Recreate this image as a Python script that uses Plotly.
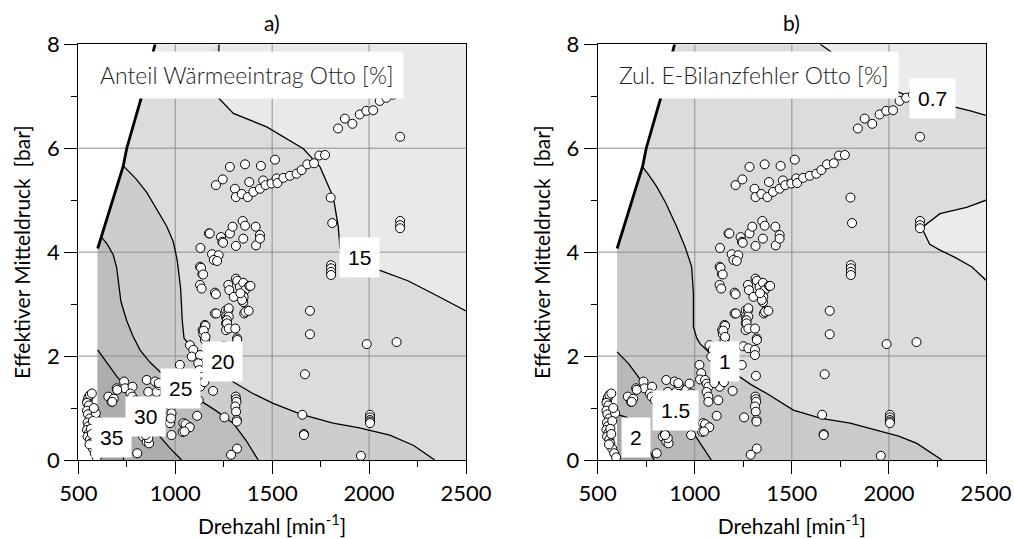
import plotly.graph_objects as go

# ---------------------------------------------------------------- axes / map
RPM_RANGE = [500, 2500]
BMEP_RANGE = [0, 8]
MAP_RPM_MIN = 600
X_MAJOR = [500, 1000, 1500, 2000, 2500]
Y_MAJOR = [0, 2, 4, 6, 8]

# full-load line (upper limit of the map)
FL_RPM = [600, 660, 732, 750, 827, 896]
FL_BMEP = [4.07, 4.8, 5.66, 6.0, 7.0, 8.0]

# ---------------------------------------------------------------- panel a)
LEVELS_A = [15, 20, 25, 30, 35]
COLORS_A = ["#e9e9e9", "#dcdcdc", "#cdcdcd", "#bdbdbd", "#adadad", "#9d9d9d"]

A15_RPM = [1226, 1215, 1300, 1472, 1661, 1747, 1816, 1841, 1850, 1950, 2056, 2200, 2331, 2500]
A15_BMEP = [8.0, 7.0, 6.67, 6.41, 5.99, 5.64, 5.05, 4.49, 4.07, 3.85, 3.65, 3.45, 3.2, 2.87]
A20_RPM = [732, 800, 853, 910, 956, 990, 1010, 1028, 1036, 1045, 1080, 1130, 1200, 1300,
           1400, 1505, 1650, 1814, 1950, 2107, 2230, 2339]
A20_BMEP = [5.66, 5.4, 5.15, 4.8, 4.5, 4.2, 3.85, 3.3, 2.7, 2.35, 2.17, 2.0, 1.78, 1.5,
            1.28, 1.09, 0.88, 0.71, 0.62, 0.48, 0.28, 0.0]
A25_RPM = [618, 650, 680, 698, 708, 720, 749, 780, 818, 870, 921, 980, 1050, 1127, 1210,
           1299, 1365, 1428]
A25_BMEP = [4.3, 4.15, 3.95, 3.7, 3.4, 3.05, 2.69, 2.4, 2.12, 1.88, 1.7, 1.52, 1.33, 1.15,
            0.95, 0.71, 0.38, 0.0]
A30_RPM = [600, 630, 663, 700, 749, 800, 860, 900, 921, 980, 1033]
A30_BMEP = [2.12, 1.97, 1.79, 1.6, 1.41, 1.2, 0.9, 0.62, 0.45, 0.2, 0.0]
A35_RPM = [600, 640, 680, 710, 735]
A35_BMEP = [0.85, 0.75, 0.55, 0.3, 0.0]

LABEL_A_RPM = [1952, 1243, 1027, 846, 670]
LABEL_A_BMEP = [3.89, 1.89, 1.37, 0.83, 0.43]

# ---------------------------------------------------------------- panel b)
LEVELS_B = [0.7, 1, 1.5, 2]
COLORS_B = ["#ebebeb", "#dcdcdc", "#cacaca", "#b8b8b8", "#a6a6a6"]

B07_TOP_RPM = [1646, 1714, 1800, 1900, 2005, 2100, 2200, 2341, 2420, 2500]
B07_TOP_BMEP = [8.0, 7.82, 7.6, 7.35, 7.15, 7.0, 6.9, 6.79, 6.72, 6.63]
B07_MID_RPM = [2500, 2400, 2263, 2169, 2210, 2263, 2340, 2426, 2500]
B07_MID_BMEP = [5.0, 4.86, 4.74, 4.47, 4.15, 4.04, 3.9, 3.72, 3.46]
B1_RPM = [727, 760, 804, 850, 907, 950, 984, 993, 993, 1010, 1027, 1079, 1150, 1219, 1290,
          1371, 1508, 1650, 1800, 1938, 2050, 2144, 2273]
B1_BMEP = [5.66, 5.5, 5.26, 4.95, 4.49, 4.1, 3.72, 3.2, 2.56, 2.35, 2.24, 2.05, 1.85, 1.63,
           1.45, 1.28, 0.96, 0.8, 0.71, 0.58, 0.46, 0.32, 0.0]
B15_RPM = [600, 660, 727, 800, 880, 940, 976, 1030, 1085]
B15_BMEP = [2.08, 1.85, 1.51, 1.3, 1.05, 0.8, 0.62, 0.3, 0.0]
B2_RPM = [600, 650, 700, 750, 790]
B2_BMEP = [0.88, 0.82, 0.6, 0.3, 0.0]

LABEL_B_RPM = [2224, 1156, 901, 695]
LABEL_B_BMEP = [6.96, 1.89, 0.96, 0.43]

# ---------------------------------------------------------------- measured operating points
OP_RPM = [
    548, 552, 560, 545, 555, 570, 545, 550, 560, 548, 552, 545, 555, 548, 560, 565, 575, 585,
    595, 590, 580, 575, 565, 570, 558,
    655, 672, 698, 736, 741, 780, 683, 675, 701, 769, 778, 795, 804,
    853, 861, 896, 904, 918, 956, 915,
    835, 853, 865, 861, 845, 838, 847,
    973, 981, 979, 981, 973, 981, 976, 978,
    1024, 1033, 1042, 1038, 1071, 1027, 1053, 1061, 1070, 1061, 1070, 1070, 1121, 1113, 1053,
    1075, 1048,
    1076, 1093, 1085, 1128, 1119, 1124, 1136, 1128, 1110, 1100, 1150, 1141, 1153, 1145, 1153,
    1128, 1140, 1128, 1136, 1130, 1133, 1144, 1156, 1147, 1156,
    1174, 1190, 1224, 1199, 1216, 1236, 1243, 1247,
    1205, 1210, 1205, 1212,
    1262, 1262, 1262, 1262, 1265, 1274, 1276, 1276, 1267, 1267, 1276, 1310, 1319, 1250, 1276,
    1310, 1310, 1320, 1356, 1368, 1362, 1379,
    1274, 1279, 1313, 1320, 1334, 1351, 1360, 1382, 1348, 1351, 1302, 1353, 1345, 1388, 1336,
    1282, 1296, 1313, 1348, 1351, 1360, 1415, 1417, 1437, 1437, 1178,
    1312, 1314, 1316, 1310, 1314, 1318, 1318, 1254, 1195, 1319, 1288, 1315, 1242,
    1669, 1695, 1695, 1656, 1664, 1664, 1988, 2142, 1958, 2005, 2005, 2005, 2005, 2005,
    1804, 1804, 1804, 1804, 1802, 1810, 2160, 2160, 2160, 2160,
    1210, 1245, 1282, 1360, 1442, 1515, 1308, 1313, 1343, 1374, 1382, 1403, 1437, 1454, 1466,
    1497, 1523, 1527, 1558, 1592, 1626, 1652, 1681, 1716, 1743, 1773,
    1840, 1875, 1914, 1952, 1986, 2021, 2055, 2089, 2124, 2150,
]
OP_BMEP = [
    1.15, 1.2, 1.25, 1.1, 1.05, 1.28, 0.95, 0.88, 0.8, 0.72, 0.65, 0.58, 0.52, 0.45, 0.4, 0.32,
    0.22, 0.13, 0.05, 0.9, 1.0, 0.75, 0.6, 0.5, 0.3,
    1.22, 1.12, 1.38, 1.51, 1.38, 1.41, 1.18, 1.12, 1.35, 1.28, 1.22, 1.15, 0.13,
    1.54, 1.31, 1.51, 1.31, 1.44, 1.35, 1.48,
    0.45, 0.35, 0.32, 0.42, 0.5, 0.64, 0.48,
    1.47, 1.28, 1.03, 0.9, 0.71, 0.48, 1.15, 0.8,
    1.83, 1.67, 0.71, 0.54, 0.64, 1.55, 1.54, 1.47, 1.41, 1.31, 1.22, 1.12, 1.15, 0.85, 0.69,
    0.63, 0.55,
    2.21, 2.12, 1.99, 2.02, 1.86, 1.73, 1.6, 1.41, 1.55, 1.48, 1.5, 2.5, 2.6, 2.42, 2.31,
    3.72, 3.58, 3.37, 3.3, 4.08, 3.7, 3.57, 2.58, 2.49, 2.37,
    4.36, 3.96, 3.94, 3.85, 3.83, 4.29, 4.2, 4.18,
    3.22, 3.19, 2.82, 2.82,
    2.88, 2.76, 2.63, 2.5, 2.72, 2.88, 2.92, 2.76, 2.69, 2.63, 2.53, 2.53, 2.34, 2.19, 2.15,
    2.12, 2.02, 2.31, 2.82, 2.88, 2.85, 2.87,
    3.37, 3.27, 3.49, 3.45, 3.33, 3.41, 3.27, 3.35, 3.17, 3.04, 3.14, 3.14, 3.08, 3.35, 3.21,
    4.36, 4.49, 4.12, 4.6, 4.26, 4.51, 4.49, 4.13, 4.33, 4.26, 4.36,
    1.22, 1.17, 1.12, 1.03, 0.93, 0.77, 0.74, 0.82, 1.33, 0.22, 0.1, 1.62, 1.83,
    1.65, 2.87, 2.42, 0.87, 0.5, 0.48, 2.23, 2.27, 0.08, 0.87, 0.82, 0.77, 0.74, 0.71,
    3.75, 3.69, 3.62, 3.56, 5.05, 4.56, 4.6, 4.52, 4.46, 6.22,
    5.29, 5.4, 5.64, 5.69, 5.66, 5.78, 5.22, 5.06, 5.12, 5.06, 5.35, 5.16, 5.22, 5.38, 5.29,
    5.32, 5.42, 5.33, 5.43, 5.47, 5.51, 5.58, 5.69, 5.71, 5.86, 5.87,
    6.38, 6.57, 6.47, 6.65, 6.72, 6.73, 6.91, 6.97, 7.03, 7.08,
]

PANEL_TITLES = ["a)", "b)"]
BOX_TITLES = ["Anteil Wärmeeintrag Otto [%]", "Zul. E-Bilanzfehler Otto [%]"]
X_TITLE = "Drehzahl [min<sup>-1</sup>]"
Y_TITLE = "Effektiver Mitteldruck  [bar]"

FONT_AXIS = "Lato, 'Open Sans', sans-serif"
FONT_LABEL = "'Liberation Sans', Arial, sans-serif"


def region_below(c_rpm, c_bmep):
    """Polygon of the map area on the low-load / low-speed side of a contour."""
    xs, ys = list(c_rpm), list(c_bmep)
    if xs[-1] >= RPM_RANGE[1] and ys[-1] > BMEP_RANGE[0]:
        xs.append(RPM_RANGE[1]); ys.append(BMEP_RANGE[0])
    xs.append(MAP_RPM_MIN); ys.append(BMEP_RANGE[0])
    for r, b in zip(FL_RPM, FL_BMEP):
        if b < ys[0]:
            xs.append(r); ys.append(b)
    return xs, ys


def map_outline():
    xs = [MAP_RPM_MIN, RPM_RANGE[1], RPM_RANGE[1]] + FL_RPM[::-1]
    ys = [BMEP_RANGE[0], BMEP_RANGE[0], BMEP_RANGE[1]] + FL_BMEP[::-1]
    return xs, ys


fig = go.Figure()


def fill(xs, ys, color, ax):
    fig.add_trace(go.Scatter(x=xs, y=ys, mode="lines", fill="toself", fillcolor=color,
                             line=dict(width=0), hoverinfo="skip", showlegend=False,
                             xaxis=ax[0], yaxis=ax[1]))


def line(xs, ys, width, ax, color="black"):
    fig.add_trace(go.Scatter(x=xs, y=ys, mode="lines", line=dict(color=color, width=width),
                             hoverinfo="skip", showlegend=False, xaxis=ax[0], yaxis=ax[1]))


def grid(ax):
    gx, gy = [], []
    for v in X_MAJOR[1:-1]:
        gx += [v, v, None]; gy += [BMEP_RANGE[0], BMEP_RANGE[1], None]
    for v in Y_MAJOR[1:-1]:
        gx += [RPM_RANGE[0], RPM_RANGE[1], None]; gy += [v, v, None]
    line(gx, gy, 1, ax, color="#8f8f8f")


def points(ax):
    fig.add_trace(go.Scatter(x=OP_RPM, y=OP_BMEP, mode="markers",
                             marker=dict(size=9, color="white",
                                         line=dict(color="black", width=1)),
                             hoverinfo="skip", showlegend=False, xaxis=ax[0], yaxis=ax[1]))


# ---- panel a)
ax_a = ("x", "y")
fill(*map_outline(), COLORS_A[0], ax_a)
contours_a = [(A15_RPM, A15_BMEP), (A20_RPM, A20_BMEP), (A25_RPM, A25_BMEP),
              (A30_RPM, A30_BMEP), (A35_RPM, A35_BMEP)]
for (cr, cb), col in zip(contours_a, COLORS_A[1:]):
    fill(*region_below(cr, cb), col, ax_a)
grid(ax_a)
for cr, cb in contours_a:
    line(cr, cb, 1.3, ax_a)
line(FL_RPM, FL_BMEP, 2.8, ax_a)
points(ax_a)

# ---- panel b)
ax_b = ("x2", "y2")
fill(*map_outline(), COLORS_B[1], ax_b)
fill(B07_TOP_RPM + [RPM_RANGE[1]], B07_TOP_BMEP + [BMEP_RANGE[1]], COLORS_B[0], ax_b)
fill(B07_MID_RPM, B07_MID_BMEP, COLORS_B[0], ax_b)
contours_b = [(B1_RPM, B1_BMEP), (B15_RPM, B15_BMEP), (B2_RPM, B2_BMEP)]
for (cr, cb), col in zip(contours_b, COLORS_B[2:]):
    fill(*region_below(cr, cb), col, ax_b)
grid(ax_b)
for cr, cb in [(B07_TOP_RPM, B07_TOP_BMEP), (B07_MID_RPM, B07_MID_BMEP)] + contours_b:
    line(cr, cb, 1.3, ax_b)
line(FL_RPM, FL_BMEP, 2.8, ax_b)
points(ax_b)

# ---- contour labels and panel captions
annotations = []
for lv, r, b in zip(LEVELS_A, LABEL_A_RPM, LABEL_A_BMEP):
    annotations.append(dict(x=r, y=b, xref="x", yref="y", text=f"{lv:g}", showarrow=False,
                            bgcolor="white", borderpad=8,
                            font=dict(family=FONT_LABEL, size=21, color="black")))
for lv, r, b in zip(LEVELS_B, LABEL_B_RPM, LABEL_B_BMEP):
    annotations.append(dict(x=r, y=b, xref="x2", yref="y2", text=f"{lv:g}", showarrow=False,
                            bgcolor="white", borderpad=8,
                            font=dict(family=FONT_LABEL, size=21, color="black")))
for i, (ptitle, btitle) in enumerate(zip(PANEL_TITLES, BOX_TITLES)):
    sfx = "" if i == 0 else "2"
    annotations.append(dict(x=0.03, y=0.927, xref=f"x{sfx} domain", yref=f"y{sfx} domain",
                            xanchor="left", yanchor="middle", text=btitle, showarrow=False,
                            bgcolor="white", borderpad=9,
                            font=dict(family=FONT_AXIS, size=23, color="#222222", weight=300)))
    annotations.append(dict(x=0.5, y=1.0, xref=f"x{sfx} domain", yref="paper",
                            xanchor="center", yanchor="top", yshift=-8, text=ptitle,
                            showarrow=False, font=dict(family=FONT_AXIS, size=21, color="black")))


def xaxis(domain, anchor):
    return dict(domain=domain, anchor=anchor, range=RPM_RANGE, tickvals=X_MAJOR,
                ticks="outside", ticklen=13, tickwidth=1, tickcolor="black",
                minor=dict(dtick=250, tick0=500, ticks="outside", ticklen=6, tickcolor="black",
                           showgrid=False),
                showgrid=False, zeroline=False, showline=True, mirror=True,
                linecolor="black", linewidth=1.3, automargin=False,
                tickfont=dict(family=FONT_AXIS, size=22, color="black"),
                title=dict(text=X_TITLE, standoff=14,
                           font=dict(family=FONT_AXIS, size=21, color="black")))


def yaxis(domain, anchor):
    return dict(domain=domain, anchor=anchor, range=BMEP_RANGE, tickvals=Y_MAJOR,
                ticks="outside", ticklen=13, tickwidth=1, tickcolor="black",
                minor=dict(dtick=1, tick0=0, ticks="outside", ticklen=6, tickcolor="black",
                           showgrid=False),
                showgrid=False, zeroline=False, showline=True, mirror=True,
                linecolor="black", linewidth=1.3, automargin=False,
                tickfont=dict(family=FONT_AXIS, size=22, color="black"),
                title=dict(text=Y_TITLE, standoff=10,
                           font=dict(family=FONT_AXIS, size=21, color="black")))


Y_DOM = [1 - 460 / 539, 1 - 44.3 / 539]
fig.update_layout(
    width=1014, height=539,
    margin=dict(l=0, r=0, t=0, b=0, autoexpand=False),
    paper_bgcolor="white", plot_bgcolor="white",
    xaxis=xaxis([78.3 / 1014, 466 / 1014], "y"),
    yaxis=yaxis(Y_DOM, "x"),
    xaxis2=xaxis([597.7 / 1014, 986 / 1014], "y2"),
    yaxis2=yaxis(Y_DOM, "x2"),
    annotations=annotations,
)

fig.write_html("out.html")
